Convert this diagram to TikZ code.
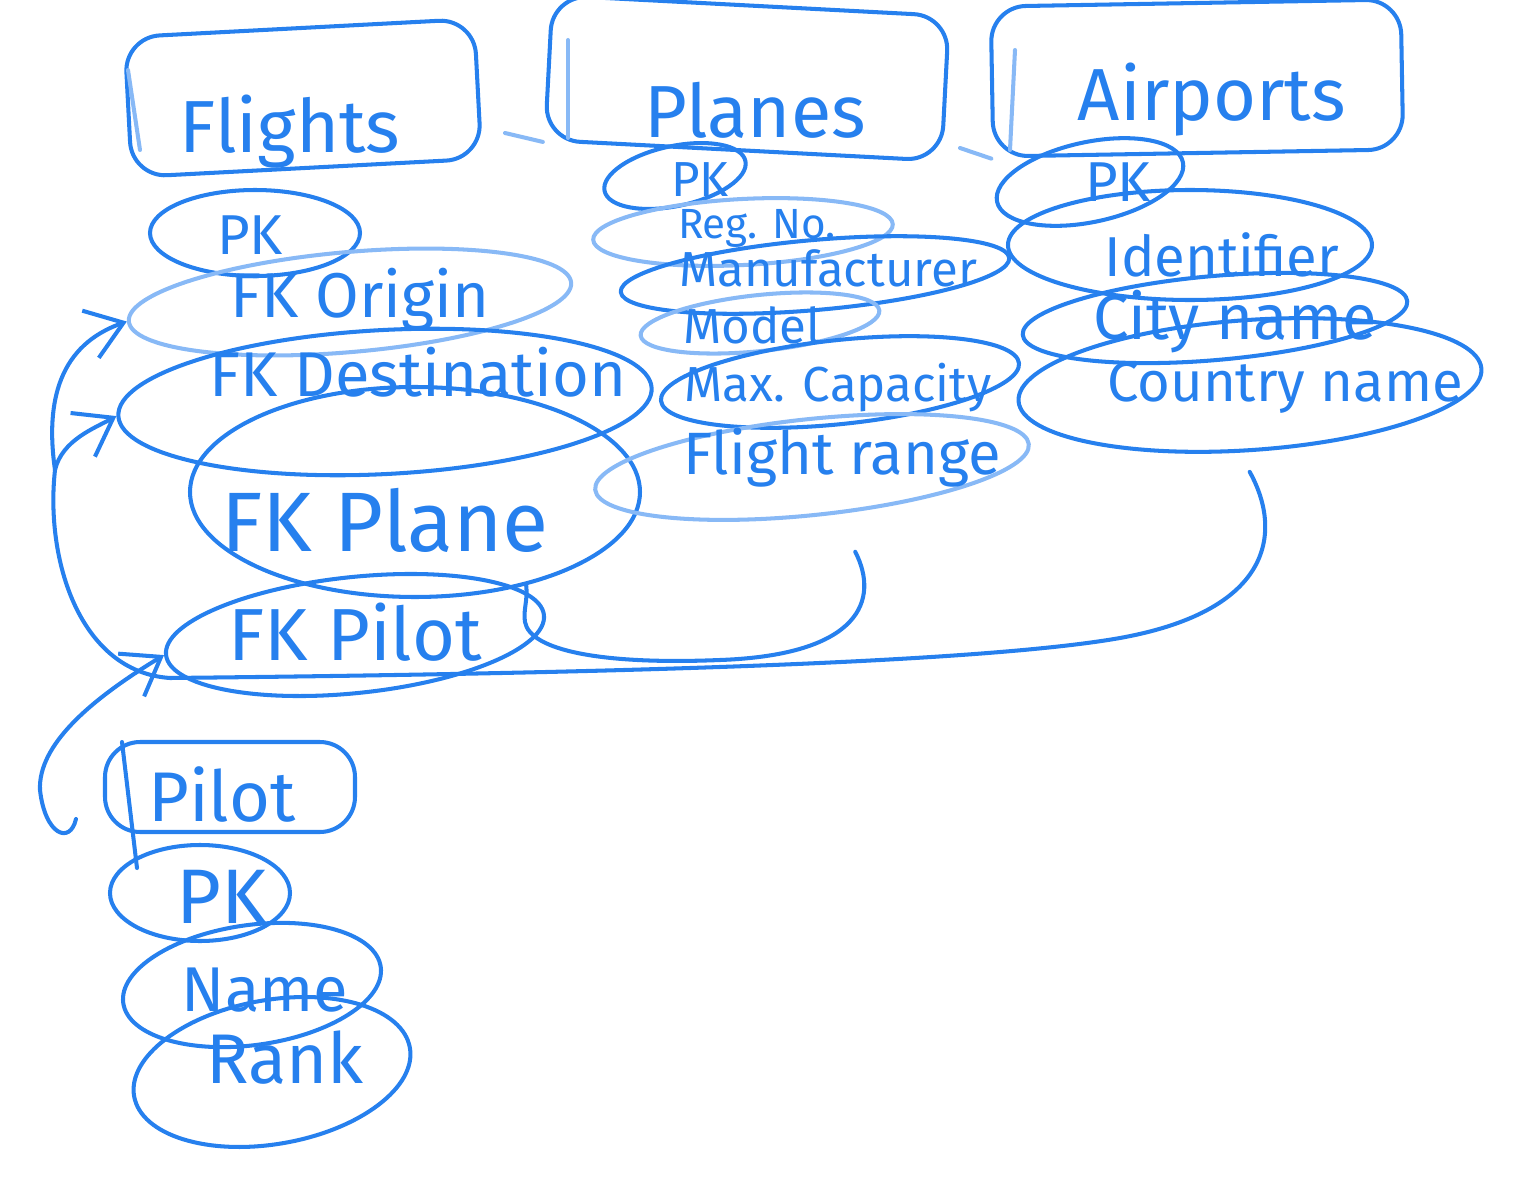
\documentclass[tikz,border=0pt]{standalone}
\usepackage{fontspec}
\setmainfont{Fira Sans}
\usepackage{tikz}
\usetikzlibrary{shapes,arrows.meta,positioning,calc}
\definecolor{sketchblue}{RGB}{38,128,238}
\newcommand{\fsz}[1]{\fontsize{#1}{#1}\selectfont}

\begin{document}
\begin{tikzpicture}[x=0.1mm,y=-0.1mm,
    sketch/.style={draw=sketchblue,line width=1.15pt,line cap=round,line join=round},
    faint/.style={draw=sketchblue!55},
    entitybox/.style={sketch,rectangle,rounded corners=10pt,inner sep=0pt},
    attrell/.style={sketch,ellipse,inner sep=0pt},
    hand/.style={text=sketchblue,inner sep=0pt},
    link/.style={sketch},
    >={Straight Barb[length=3.5mm,width=5mm]}]
\useasboundingbox (0,0) rectangle (1536,1194);

\node[entitybox,minimum width=35mm,minimum height=14mm,rotate=3] (flights) at (303,98) {};
\node[hand,font=\fsz{21}] (flights-t) at (290,132) {Flights};
\draw[sketch,faint] (128,70) -- (140,150);
\node[attrell,minimum width=21mm,minimum height=8.6mm] (fpk) at (255,233) {};
\node[hand,font=\fsz{16}] (fpk-t) at (250,235) {PK};
\node[attrell,faint,minimum width=44.4mm,minimum height=10mm,rotate=5] (forig) at (350,302) {};
\node[hand,font=\fsz{18}] (forig-t) at (360,300) {FK Origin};
\node[attrell,minimum width=53.4mm,minimum height=14.4mm,rotate=3] (fdest) at (385,402) {};
\node[hand,font=\fsz{18}] (fdest-t) at (418,372) {FK Destination};
\node[attrell,minimum width=45mm,minimum height=21mm] (fplane) at (415,492) {};
\node[hand,font=\fsz{24}] (fplane-t) at (385,520) {FK Plane};
\node[attrell,minimum width=38mm,minimum height=11.6mm,rotate=6] (fpilot) at (355,635) {};
\node[hand,font=\fsz{21}] (fpilot-t) at (355,632) {FK Pilot};

\node[entitybox,minimum width=39.7mm,minimum height=14.5mm,rotate=-3] (planes) at (747,78) {};
\node[hand,font=\fsz{21}] (planes-t) at (755,110) {Planes};
\draw[sketch,faint] (505,133) -- (planes.south west);
\draw[sketch,faint] (568,40) -- (568,138);
\node[attrell,minimum width=14.4mm,minimum height=6mm,rotate=12] (ppk) at (675,176) {};
\node[hand,font=\fsz{14}] (ppk-t) at (700,180) {PK};
\node[attrell,faint,minimum width=30mm,minimum height=6.6mm,rotate=3] (preg) at (743,232) {};
\node[hand,font=\fsz{12}] (preg-t) at (757,228) {Reg. No.};
\node[attrell,minimum width=39mm,minimum height=7mm,rotate=5] (pmanu) at (815,275) {};
\node[hand,font=\fsz{14}] (pmanu-t) at (828,268) {Manufacturer};
\node[attrell,faint,minimum width=24mm,minimum height=5.6mm,rotate=6] (pmodel) at (760,323) {};
\node[hand,font=\fsz{14}] (pmodel-t) at (752,325) {Model};
\node[attrell,minimum width=36mm,minimum height=8.4mm,rotate=6] (pcap) at (840,382) {};
\node[hand,font=\fsz{14}] (pcap-t) at (838,388) {Max. Capacity};
\node[attrell,faint,minimum width=43.6mm,minimum height=9.6mm,rotate=6] (frange) at (812,467) {};
\node[hand,font=\fsz{17}] (frange-t) at (842,458) {Flight range};

\node[entitybox,minimum width=41mm,minimum height=15mm,rotate=1] (airports) at (1197,78) {};
\node[hand,font=\fsz{21}] (airports-t) at (1212,100) {Airports};
\draw[sketch,faint] (960,148) -- (airports.south west);
\draw[sketch,faint] (1015,50) -- (1010,150);
\node[attrell,minimum width=19mm,minimum height=8mm,rotate=12] (apk) at (1090,182) {};
\node[hand,font=\fsz{16}] (apk-t) at (1118,182) {PK};
\node[attrell,minimum width=36.4mm,minimum height=11mm] (aident) at (1190,245) {};
\node[hand,font=\fsz{16}] (aident-t) at (1222,255) {Identifier};
\node[attrell,minimum width=38.6mm,minimum height=8.4mm,rotate=5] (acity) at (1215,318) {};
\node[hand,font=\fsz{18}] (acity-t) at (1235,322) {City name};
\node[attrell,minimum width=46.4mm,minimum height=13mm,rotate=4] (ctyname) at (1250,385) {};
\node[hand,font=\fsz{16}] (ctyname-t) at (1285,388) {Country name};

\node[entitybox,minimum width=25mm,minimum height=9mm] (pilot) at (230,787) {};
\node[hand,font=\fsz{20}] (pilot-t) at (222,795) {Pilot};
\draw[sketch] (122,742) -- (137,868);
\node[attrell,minimum width=18mm,minimum height=9.6mm] (lpk) at (200,893) {};
\node[hand,font=\fsz{22}] (lpk-t) at (222,897) {PK};
\node[attrell,minimum width=26mm,minimum height=12mm,rotate=8] (lname) at (252,985) {};
\node[hand,font=\fsz{18}] (lname-t) at (265,990) {Name};
\node[attrell,minimum width=28mm,minimum height=14.4mm,rotate=10] (lrank) at (272,1072) {};
\node[hand,font=\fsz{20}] (lrank-t) at (285,1058) {Rank};

\coordinate (under) at (170,678);
\coordinate (jn) at (55,470);
\draw[link,->] ($(ctyname.south)+(-5,20)$) .. controls (1282,530) and (1275,610) .. (1120,638)
    .. controls (950,668) and (450,675) .. (under)
    .. controls (80,672) and (45,560) .. (jn)
    .. controls (62,440) and (95,428) .. (fdest.west);
\draw[link,->] (jn) .. controls (45,400) and (60,345) .. (forig.west);
\draw[link] ($(frange.south)+(38,35)$) .. controls (880,600) and (860,655) .. (720,660)
    .. controls (600,665) and (530,650) .. (525,622)
    .. controls (523,610) and (528,600) .. (fplane.-40);
\draw[link,->] ($(pilot.south west)+(-27,-15)$) .. controls (70,845) and (45,835) .. (40,790)
    .. controls (38,745) and (90,700) .. (fpilot.west);
\end{tikzpicture}
\end{document}
